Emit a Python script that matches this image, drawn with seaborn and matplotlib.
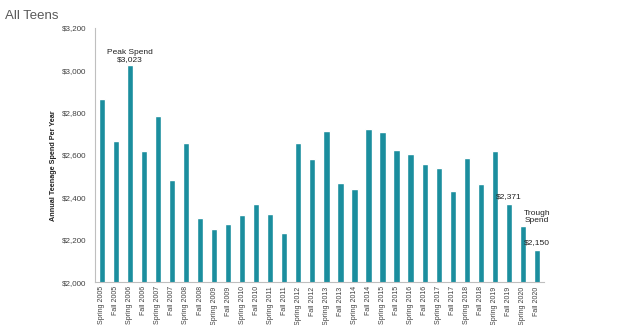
import matplotlib
matplotlib.use("Agg")
import matplotlib.pyplot as plt
import seaborn as sns
import pandas as pd

seasons = ["Spring 2005", "Fall 2005", "Spring 2006", "Fall 2006", "Spring 2007", "Fall 2007",
           "Spring 2008", "Fall 2008", "Spring 2009", "Fall 2009", "Spring 2010", "Fall 2010",
           "Spring 2011", "Fall 2011", "Spring 2012", "Fall 2012", "Spring 2013", "Fall 2013",
           "Spring 2014", "Fall 2014", "Spring 2015", "Fall 2015", "Spring 2016", "Fall 2016",
           "Spring 2017", "Fall 2017", "Spring 2018", "Fall 2018", "Spring 2019", "Fall 2019",
           "Spring 2020", "Fall 2020"]
spend = [2865, 2667, 3023, 2620, 2783, 2480,
         2656, 2302, 2249, 2274, 2317, 2368,
         2321, 2232, 2656, 2580, 2713, 2467,
         2438, 2721, 2709, 2624, 2604, 2557,
         2541, 2431, 2584, 2464, 2618, 2371,
         2266, 2150]
yticks = [2000, 2200, 2400, 2600, 2800, 3000, 3200]

df = pd.DataFrame({"season": seasons, "spend": spend})

sns.set_theme(style="white")
plt.rcParams['font.family'] = ['Liberation Sans', 'DejaVu Sans']

fig = plt.figure(figsize=(6.4, 3.25), dpi=100)
ax = fig.add_axes([0.148, 0.132, 0.702, 0.782])

sns.barplot(data=df, x="season", y="spend", color="#1b8e9e", width=0.45,
            saturation=1, ax=ax)

ax.set_ylim(2000, 3200)
ax.set_yticks(yticks)
ax.set_yticklabels([f"${v:,}" for v in yticks], fontsize=5.8, color="#404040")
ax.set_xlim(-0.5, len(seasons) - 0.5)
ax.tick_params(axis="x", labelrotation=90, labelsize=5, colors="#404040", length=0, pad=3)
ax.tick_params(axis="y", length=0, pad=6)
ax.set_xlabel("")
ax.set_ylabel("Annual Teenage Spend Per Year", fontsize=5.2, fontweight="bold",
              color="#222222")
ax.yaxis.set_label_coords(-0.085, 0.457)

for s in ["top", "right"]:
    ax.spines[s].set_visible(False)
for s in ["left", "bottom"]:
    ax.spines[s].set_color("#bfbfbf")
    ax.spines[s].set_linewidth(0.8)

i_peak = seasons.index("Spring 2006")
ax.text(i_peak, spend[i_peak] + 12, "Peak Spend\n$3,023", ha="center", va="bottom",
        fontsize=6, color="#222222", linespacing=0.9)
i_f19 = seasons.index("Fall 2019")
ax.text(i_f19, spend[i_f19] + 18, "$2,371", ha="center", va="bottom",
        fontsize=6, color="#222222")
i_f20 = seasons.index("Fall 2020")
ax.text(i_f20, spend[i_f20] + 18, "$2,150", ha="center", va="bottom",
        fontsize=6, color="#222222")
ax.text(i_f20, spend[i_f20] + 125, "Trough\nSpend", ha="center", va="bottom",
        fontsize=6, color="#222222", linespacing=1.0)

fig.text(0.008, 0.97, "All Teens", fontsize=9.5, color="#595959", ha="left", va="top")

fig.savefig("out.png", dpi=100)
